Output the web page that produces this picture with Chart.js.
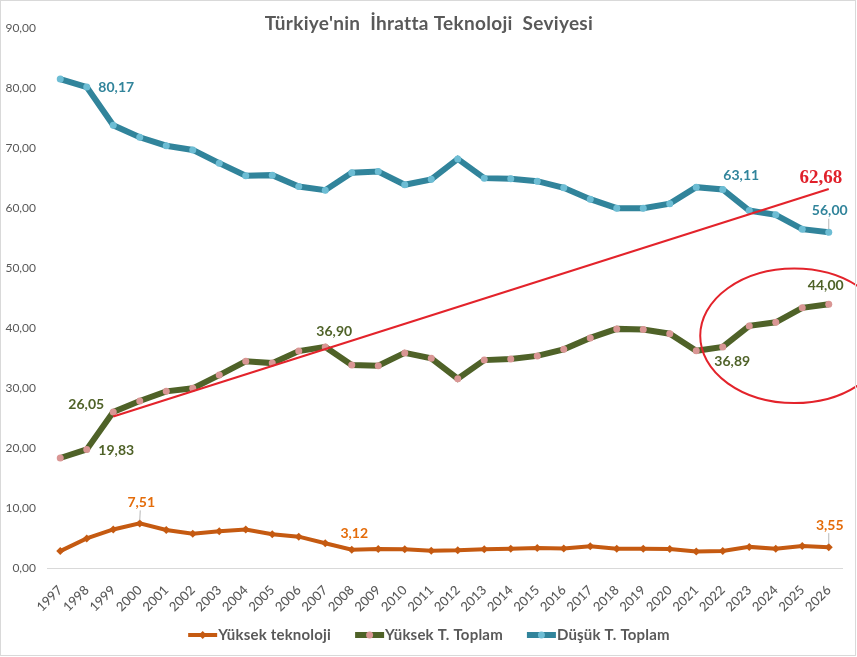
<!DOCTYPE html>
<html><head><meta charset="utf-8">
<script src="https://cdn.jsdelivr.net/npm/chart.js@4.4.1/dist/chart.umd.min.js"></script>
<style>html,body{margin:0;padding:0;background:#fff}#wrap{width:857px;height:657px}</style>
</head><body><div id="wrap"><canvas id="c" width="857" height="657"></canvas></div>
<script>
const chartTitle = "Türkiye'nin  İhratta Teknoloji  Seviyesi";
const years = ['1997','1998','1999','2000','2001','2002','2003','2004','2005','2006','2007','2008','2009','2010','2011','2012','2013','2014','2015','2016','2017','2018','2019','2020','2021','2022','2023','2024','2025','2026'];
const yuksekTeknoloji = [2.9,5.0,6.5,7.51,6.4,5.8,6.2,6.5,5.7,5.3,4.2,3.12,3.25,3.2,2.97,3.03,3.2,3.3,3.4,3.35,3.7,3.3,3.3,3.25,2.85,2.9,3.6,3.3,3.75,3.55];
const yuksekToplam = [18.4,19.83,26.05,27.9,29.5,30.0,32.2,34.5,34.2,36.2,36.90,33.9,33.75,35.9,35.0,31.6,34.7,34.9,35.4,36.5,38.4,39.9,39.8,39.1,36.25,36.89,40.4,41.0,43.4,44.00];
const dusukToplam = [81.5,80.17,73.8,71.8,70.4,69.7,67.5,65.4,65.5,63.6,63.0,65.9,66.1,63.9,64.8,68.2,65.0,64.9,64.5,63.4,61.5,60.0,60.0,60.75,63.5,63.11,59.6,58.9,56.5,56.00];
const trendLine = [null,null,25.3,null,null,null,null,null,null,null,null,null,null,null,null,null,null,null,null,null,null,null,null,null,null,null,null,null,null,63.2];
const trendLabel = '62,68';
const seriesNames = ['Yüksek teknoloji','Yüksek T. Toplam','Düşük T. Toplam'];
const yMin = 0, yMax = 90, yStep = 10;
// highlighted region (category position, value, radii in category units / value units)
const ellipseCenterIndex = 27.7, ellipseCenterValue = 38.75, ellipseRxCats = 3.55, ellipseRyValue = 11.2;

const C_OR = '#C55A11', C_GR = '#4F6228', C_BL = '#31849B', C_RED = '#E3232B';
const fmt = v => v.toFixed(2).replace('.', ',');

const valueLabels = [
  {ds:2, i:1,  dx:29.5, dy:0,    color:C_BL},
  {ds:2, i:25, dx:18.5, dy:-14,  color:C_BL},
  {ds:2, i:29, dx:1,    dy:-21.5,color:C_BL, leader:true},
  {ds:1, i:2,  dx:-27,  dy:-8,   color:C_GR},
  {ds:1, i:1,  dx:29.5, dy:1,    color:C_GR},
  {ds:1, i:10, dx:9,    dy:-15,  color:C_GR},
  {ds:1, i:25, dx:9.5,  dy:15,   color:C_GR},
  {ds:1, i:29, dx:-3,   dy:-18.5,color:C_GR},
  {ds:0, i:3,  dx:1.5,  dy:-21,  color:'#E46C0A', leader:true},
  {ds:0, i:11, dx:2.5,  dy:-16,  color:'#E46C0A'},
  {ds:0, i:29, dx:1,    dy:-22,  color:'#E46C0A', leader:true}
];

const drawPlugin = {
  id:'extras',
  afterDatasetsDraw(chart){
    const ctx = chart.ctx, xs = chart.scales.x, ys = chart.scales.y;
    ctx.save();
    const cx = xs.getPixelForValue(ellipseCenterIndex);
    const cy = ys.getPixelForValue(ellipseCenterValue);
    const rx = Math.abs(xs.getPixelForValue(ellipseCenterIndex + ellipseRxCats) - cx);
    const ry = Math.abs(ys.getPixelForValue(ellipseCenterValue + ellipseRyValue) - cy);
    ctx.beginPath();
    ctx.ellipse(cx, cy, rx, ry, 0, 0, Math.PI*2);
    ctx.strokeStyle = C_RED; ctx.lineWidth = 2; ctx.stroke();
    ctx.font = 'bold 14px Lato';
    ctx.textAlign = 'center'; ctx.textBaseline = 'middle';
    valueLabels.forEach(l => {
      const pt = chart.getDatasetMeta(l.ds).data[l.i];
      const val = chart.data.datasets[l.ds].data[l.i];
      const x = pt.x + l.dx, y = pt.y + l.dy;
      if (l.leader) {
        ctx.beginPath(); ctx.moveTo(pt.x, pt.y - 3); ctx.lineTo(x - 1, y + 8);
        ctx.strokeStyle = '#A6A6A6'; ctx.lineWidth = 0.8; ctx.stroke();
      }
      ctx.fillStyle = l.color;
      ctx.fillText(fmt(val), x, y);
    });
    const tm = chart.getDatasetMeta(3).data[29];
    ctx.font = 'bold 19px "Liberation Serif"';
    ctx.fillStyle = '#E0202A';
    ctx.fillText(trendLabel, tm.x - 8, tm.y - 11);
    ctx.restore();
  },
  afterDraw(chart){
    const ctx = chart.ctx;
    ctx.save();
    ctx.font = 'bold 19px Lato'; ctx.fillStyle = '#595959';
    ctx.letterSpacing = '0.3px';
    ctx.textAlign = 'center'; ctx.textBaseline = 'middle';
    ctx.fillText(chartTitle, 429, 24);
    ctx.font = 'bold 15px Lato'; ctx.textAlign = 'left';
    ctx.letterSpacing = '0.2px';
    const lineW = 29, gap = 24;
    const items = chart.data.datasets.slice(0,3).map((d, k) => ({d, w: lineW + 1 + ctx.measureText(seriesNames[k]).width}));
    const total = items.reduce((a, b) => a + b.w, 0) + gap * (items.length - 1);
    let x = 429 - total / 2; const y = 635;
    items.forEach((it, k) => {
      const d = it.d;
      ctx.beginPath(); ctx.moveTo(x, y); ctx.lineTo(x + lineW, y);
      ctx.strokeStyle = d.borderColor; ctx.lineWidth = k === 0 ? 4 : 6; ctx.lineCap = 'butt'; ctx.stroke();
      ctx.fillStyle = d.pointBackgroundColor;
      ctx.beginPath();
      if (k === 0) { ctx.moveTo(x+lineW/2, y-4); ctx.lineTo(x+lineW/2+4, y); ctx.lineTo(x+lineW/2, y+4); ctx.lineTo(x+lineW/2-4, y); ctx.closePath(); }
      else ctx.arc(x + lineW/2, y, 3.5, 0, Math.PI*2);
      ctx.fill();
      ctx.fillStyle = '#595959';
      ctx.fillText(seriesNames[k], x + lineW + 1, y + 0.5);
      x += it.w + gap;
    });
    ctx.letterSpacing = '0px';
    ctx.strokeStyle = '#D9D9D9'; ctx.lineWidth = 1;
    ctx.strokeRect(0.5, 0.5, 855, 655);
    ctx.restore();
  }
};

new Chart(document.getElementById('c').getContext('2d'), {
  type:'line',
  data:{labels:years, datasets:[
    {label:seriesNames[0], data:yuksekTeknoloji, borderColor:C_OR, backgroundColor:C_OR, pointBackgroundColor:C_OR, pointBorderColor:C_OR, pointBorderWidth:0, borderWidth:4, pointRadius:4, pointStyle:'rectRot', tension:0},
    {label:seriesNames[1], data:yuksekToplam, borderColor:C_GR, backgroundColor:C_GR, pointBackgroundColor:'#D99694', pointBorderColor:'#D99694', pointBorderWidth:0, borderWidth:6, pointRadius:3.5, tension:0},
    {label:seriesNames[2], data:dusukToplam, borderColor:C_BL, backgroundColor:C_BL, pointBackgroundColor:'#6DBDD4', pointBorderColor:'#6DBDD4', pointBorderWidth:0, borderWidth:6, pointRadius:3.5, tension:0},
    {label:'trend', data:trendLine, borderColor:C_RED, borderWidth:2.2, pointRadius:0, spanGaps:true, order:-1, tension:0}
  ]},
  options:{
    responsive:false, animation:false, devicePixelRatio:1,
    layout:{padding:{left:0, right:15, top:28, bottom:0}},
    plugins:{legend:{display:false}, tooltip:{enabled:false}, title:{display:false}},
    scales:{
      x:{offset:true, grid:{display:false, drawTicks:false}, border:{display:true, color:'#D9D9D9', width:1},
         ticks:{autoSkip:false, maxRotation:45, minRotation:45, color:'#595959', font:{family:'Lato', size:13, weight:'500'}, padding:14},
         afterFit(s){ s.height = 88.5; }},
      y:{min:yMin, max:yMax, grid:{display:false, drawTicks:false}, border:{display:false},
         ticks:{stepSize:yStep, color:'#595959', font:{family:'Lato', size:12}, padding:11, callback:v => fmt(v)},
         afterFit(s){ s.width = 47; }}
    }
  },
  plugins:[drawPlugin]
});
</script></body></html>
